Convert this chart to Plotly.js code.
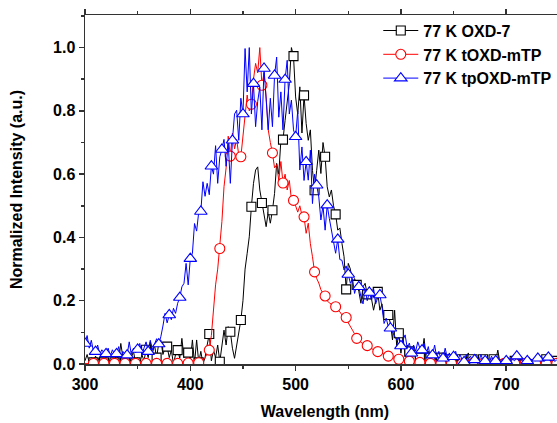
<!DOCTYPE html>
<html>
<head>
<meta charset="utf-8">
<script src="https://cdn.plot.ly/plotly-3.0.1.min.js"></script>
<style>
html,body{margin:0;padding:0;overflow:hidden;background:#fff;}
#chart{width:565px;height:423px;}
</style>
</head>
<body>
<div id="chart"></div>
<script>
// Wavelength grid (nm)
const wavelength = [
300,302,304,306,308,310,312,314,316,318,
320,322,324,326,328,330,332,334,336,338,
340,342,344,346,348,350,352,354,356,358,
360,362,364,366,368,370,372,374,376,378,
380,382,384,386,388,390,392,394,396,398,
400,402,404,406,408,410,412,414,416,418,
420,422,424,426,428,430,432,434,436,438,
440,442,444,446,448,450,452,454,456,458,
460,462,464,466,468,470,472,474,476,478,
480,482,484,486,488,490,492,494,496,498,
500,502,504,506,508,510,512,514,516,518,
520,522,524,526,528,530,532,534,536,538,
540,542,544,546,548,550,552,554,556,558,
560,562,564,566,568,570,572,574,576,578,
580,582,584,586,588,590,592,594,596,598,
600,602,604,606,608,610,612,614,616,618,
620,622,624,626,628,630,632,634,636,638,
640,642,644,646,648,650,652,654,656,658,
660,662,664,666,668,670,672,674,676,678,
680,682,684,686,688,690,692,694,696,698,
700,702,704,706,708,710,712,714,716,718,
720,722,724,726,728,730,732,734,736,738,
740,742,744,746,748
];

// 77 K OXD-7
const oxd7 = [
0.01,0.03,0.005,0.02,0.005,0.025,0.01,0.023,0.0,0.005,
0.02,0.0,0.015,0.01,0.005,0.03,0.01,0.065,0.02,0.005,
0.03,0.0,0.02,0.04,0.005,0.02,0.0,0.03,0.01,0.045,
0.02,0.07,0.034,0.06,0.02,0.065,0.076,0.03,0.05,0.055,
0.02,0.044,0.0,0.03,0.044,0.018,0.081,0.02,0.05,0.036,
0.01,0.076,0.002,0.076,0.005,0.04,0.0,0.02,0.06,0.095,
0.01,0.044,0.02,0.06,0.007,0.055,0.107,0.06,0.118,0.102,
0.05,0.018,0.06,0.1,0.139,0.2,0.3,0.35,0.402,0.497,
0.571,0.613,0.623,0.55,0.509,0.465,0.434,0.48,0.445,0.486,
0.539,0.634,0.6,0.707,0.709,0.77,0.834,0.886,1.0,0.973,
0.844,0.79,0.876,0.73,0.849,0.76,0.707,0.74,0.612,0.549,
0.612,0.676,0.602,0.7,0.655,0.56,0.528,0.55,0.5,0.473,
0.423,0.43,0.381,0.339,0.236,0.318,0.3,0.255,0.27,0.25,
0.23,0.192,0.244,0.255,0.22,0.244,0.2,0.17,0.2,0.228,
0.17,0.19,0.14,0.17,0.155,0.128,0.076,0.17,0.055,0.097,
0.034,0.086,0.023,0.06,0.04,0.023,0.055,0.013,0.04,0.02,
0.035,0.081,0.015,0.04,0.02,0.03,0.01,0.025,0.005,0.02,
0.01,0.03,0.005,0.02,0.015,0.025,0.0,0.02,0.008,0.015,
0.005,0.02,0.035,0.005,0.015,0.0,0.02,0.01,0.005,0.015,
0.01,0.0,0.02,0.005,0.015,0.01,0.044,0.005,0.01,0.0,
0.015,0.005,0.02,0.0,0.01,0.015,0.005,0.02,0.01,0.0,
0.01,0.02,0.005,0.015,0.0,0.01,0.02,0.005,0.01,0.015,
0.005,0.01,0.02,0.0,0.01
];

// 77 K tOXD-mTP
const toxdMTP = [
0.002,0.001,0.003,0.001,0.002,0.001,0.002,0.001,0.003,0.002,
0.001,0.002,0.001,0.003,0.002,0.001,0.002,0.001,0.002,0.002,
0.001,0.003,0.001,0.002,0.002,0.001,0.002,0.003,0.001,0.002,
0.002,0.001,0.002,0.001,0.002,0.003,0.001,0.002,0.001,0.002,
0.001,0.002,0.003,0.001,0.002,0.002,0.001,0.003,0.002,0.003,
0.003,0.002,0.004,0.003,0.004,0.006,0.01,0.02,0.03,0.044,
0.09,0.18,0.25,0.3,0.365,0.45,0.56,0.62,0.72,0.657,
0.73,0.68,0.71,0.66,0.655,0.72,0.77,0.85,0.8,0.821,
0.9,0.95,0.92,1.0,0.881,0.92,0.844,0.74,0.7,0.667,
0.62,0.63,0.58,0.64,0.572,0.6,0.55,0.58,0.52,0.517,
0.5,0.48,0.5,0.47,0.465,0.413,0.445,0.38,0.339,0.291,
0.27,0.256,0.235,0.223,0.215,0.2,0.193,0.19,0.185,0.181,
0.17,0.165,0.155,0.152,0.147,0.13,0.12,0.107,0.095,0.081,
0.075,0.068,0.065,0.06,0.058,0.053,0.048,0.045,0.042,0.039,
0.036,0.033,0.03,0.027,0.025,0.022,0.02,0.018,0.016,0.015,
0.014,0.012,0.011,0.01,0.009,0.008,0.007,0.006,0.006,0.005,
0.004,0.003,0.004,0.003,0.002,0.003,0.002,0.003,0.002,0.002,
0.003,0.002,0.001,0.002,0.002,0.003,0.001,0.002,0.002,0.001,
0.002,0.003,0.001,0.002,0.002,0.001,0.003,0.002,0.001,0.002,
0.001,0.002,0.003,0.001,0.002,0.002,0.001,0.002,0.003,0.002,
0.002,0.001,0.002,0.003,0.002,0.001,0.002,0.001,0.003,0.002,
0.001,0.002,0.003,0.002,0.002,0.001,0.002,0.003,0.001,0.002,
0.002,0.001,0.002,0.003,0.002
];

// 77 K tpOXD-mTP
const tpoxdMTP = [
0.065,0.09,0.05,0.075,0.04,0.039,0.06,0.03,0.045,0.035,
0.032,0.05,0.025,0.045,0.03,0.032,0.055,0.02,0.04,0.03,
0.028,0.07,0.03,0.05,0.035,0.046,0.065,0.03,0.05,0.07,
0.039,0.075,0.045,0.06,0.08,0.063,0.086,0.12,0.16,0.13,
0.155,0.14,0.176,0.16,0.192,0.21,0.244,0.255,0.318,0.25,
0.333,0.35,0.444,0.42,0.48,0.482,0.576,0.53,0.571,0.535,
0.625,0.6,0.69,0.571,0.655,0.678,0.71,0.625,0.697,0.571,
0.707,0.79,0.802,0.707,0.84,0.79,0.997,0.86,1.0,0.79,
0.886,0.75,0.83,0.875,0.74,0.934,0.844,0.74,0.84,0.75,
0.912,0.97,0.78,0.86,0.74,0.899,0.96,0.79,0.834,0.74,
0.718,0.80,0.613,0.686,0.58,0.639,0.581,0.676,0.507,0.6,
0.565,0.528,0.455,0.5,0.423,0.502,0.46,0.42,0.381,0.35,
0.394,0.33,0.328,0.297,0.31,0.283,0.255,0.27,0.223,0.25,
0.244,0.213,0.19,0.235,0.2,0.226,0.202,0.24,0.19,0.21,
0.218,0.181,0.128,0.145,0.118,0.113,0.1,0.09,0.076,0.084,
0.057,0.076,0.092,0.05,0.066,0.034,0.06,0.04,0.07,0.05,
0.044,0.065,0.03,0.055,0.02,0.028,0.06,0.02,0.04,0.015,
0.018,0.05,0.02,0.035,0.015,0.023,0.04,0.01,0.03,0.015,
0.007,0.03,0.015,0.025,0.01,0.013,0.02,0.008,0.03,0.01,
0.01,0.02,0.005,0.025,0.01,0.01,0.02,0.005,0.015,0.01,
0.01,0.02,0.005,0.015,0.01,0.025,0.01,0.02,0.005,0.015,
0.01,0.02,0.008,0.015,0.01,0.018,0.01,0.02,0.008,0.015,
0.021,0.01,0.015,0.008,0.013
];

const seriesNames = ['77 K OXD-7', '77 K tOXD-mTP', '77 K tpOXD-mTP'];
const tickFont = 'Liberation Sans, Arial, Helvetica, sans-serif';

const seriesDefs = [
  {y: oxd7,     name: seriesNames[0], color: '#000000', symbol: 'square',      size: 9,  offset: 4},
  {y: toxdMTP,  name: seriesNames[1], color: '#ff0000', symbol: 'circle',      size: 10, offset: 4},
  {y: tpoxdMTP, name: seriesNames[2], color: '#0000ff', symbol: 'triangle-up', size: 11, offset: 0}
];

const traces = [];
seriesDefs.forEach(s => {
  traces.push({
    x: wavelength, y: s.y, mode: 'lines', showlegend: false, hoverinfo: 'skip',
    line: {color: s.color, width: 1}
  });
  const mx = [], my = [];
  wavelength.forEach((w, i) => { if (i % 5 === s.offset) { mx.push(w); my.push(s.y[i]); } });
  traces.push({
    x: mx, y: my, mode: 'markers', showlegend: false, hoverinfo: 'skip',
    marker: {symbol: s.symbol, size: s.size, color: '#ffffff', line: {color: s.color, width: 1.1}}
  });
});
seriesDefs.forEach(s => {
  traces.push({
    x: [null], y: [null], mode: 'lines+markers', name: s.name, showlegend: true,
    line: {color: s.color, width: 1},
    marker: {symbol: s.symbol, size: s.size, color: '#ffffff', line: {color: s.color, width: 1.1}}
  });
});

const axisCommon = {
  showline: true, linecolor: '#333333', linewidth: 1.5, mirror: 'ticks',
  ticks: 'outside', ticklen: 5, tickwidth: 1.5, tickcolor: '#333333',
  showgrid: false, zeroline: false,
  tickfont: {family: tickFont, size: 16, color: '#000', weight: 'bold'}
};

const layout = {
  width: 565, height: 423,
  margin: {l: 85, r: 0, t: 15, b: 59},
  paper_bgcolor: '#ffffff', plot_bgcolor: '#ffffff',
  font: {family: tickFont, size: 16, color: '#000', weight: 'bold'},
  showlegend: true,
  legend: {
    x: 0.611, y: 1.004, xanchor: 'left', yanchor: 'top',
    bgcolor: 'rgba(0,0,0,0)', borderwidth: 0,
    font: {family: tickFont, size: 16, color: '#000', weight: 'bold'},
    tracegroupgap: 0, itemwidth: 35
  },
  xaxis: Object.assign({}, axisCommon, {
    range: [300, 755.8], tick0: 300, dtick: 100,
    minor: {dtick: 50, ticks: 'outside', ticklen: 3, tickwidth: 1.5, tickcolor: '#333333', showgrid: false},
    title: {text: 'Wavelength (nm)', font: {family: tickFont, size: 16, color: '#000', weight: 'bold'}, standoff: 14}
  }),
  yaxis: Object.assign({}, axisCommon, {
    range: [0, 1.103], tick0: 0, dtick: 0.2, tickformat: '.1f',
    minor: {dtick: 0.1, ticks: 'outside', ticklen: 3, tickwidth: 1.5, tickcolor: '#333333', showgrid: false},
    title: {text: 'Normalized Intensity (a.u.)', font: {family: tickFont, size: 16, color: '#000', weight: 'bold'}, standoff: 26}
  })
};

Plotly.newPlot('chart', traces, layout, {displayModeBar: false, staticPlot: true});
</script>
</body>
</html>
